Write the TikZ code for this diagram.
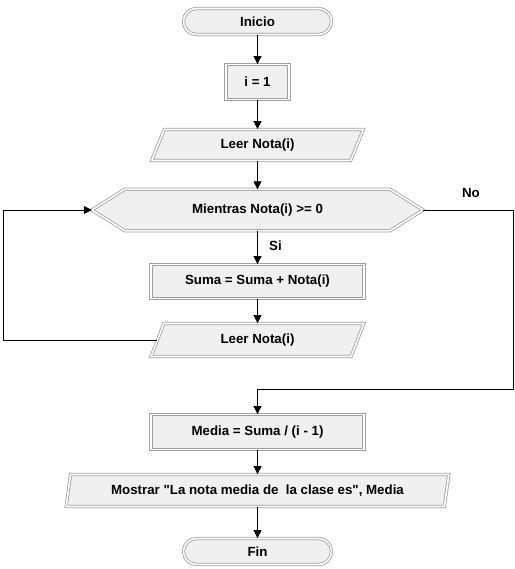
\documentclass[tikz,border=0pt]{standalone}
\usepackage{fontspec}
\setmainfont{Liberation Sans}[Ligatures=TeXOff]
\usetikzlibrary{shapes.geometric,shapes.misc,arrows.meta,backgrounds}
\definecolor{boxfill}{HTML}{F0F0F0}
\definecolor{boxline}{HTML}{A0A0A0}
\tikzset{
  dbl/.style={draw=boxline, double=white, double distance=1.6pt, line width=0.8pt, fill=boxfill},
  txt/.style={font=\fontsize{13.3}{15}\selectfont\bfseries, text=black},
  term/.style={dbl, txt, rounded rectangle, minimum width=148pt, minimum height=26pt, inner sep=0pt},
  proc/.style={dbl, txt, rectangle, minimum height=34pt, inner sep=0pt},
  io/.style={dbl, txt, trapezium, trapezium stretches=true, inner sep=0pt},
  arr/.style={draw=black, line width=0.8pt, -{Triangle[length=8pt,width=8pt]}},
  lbl/.style={txt}
}
\begin{document}
\begin{tikzpicture}[x=1pt,y=-1pt]
\useasboundingbox (0,0) rectangle (514,569);
\node[term] (inicio) at (257.5,21.5) {Inicio};
\node[proc, minimum width=63pt, minimum height=35pt] (i1) at (257.5,82) {i = 1};
\node[io, trapezium left angle=68, trapezium right angle=112, minimum width=212pt, minimum height=31pt] (leer1) at (257.5,145) {Leer Nota(i)};
\node[txt, minimum width=331pt, minimum height=41pt, inner sep=0pt] (mientras) at (257.5,210) {Mientras Nota(i) >= 0};
\begin{scope}[on background layer]
\draw[dbl] (mientras.west) -- ([xshift=33pt]mientras.north west) -- ([xshift=-33pt]mientras.north east) -- (mientras.east) -- ([xshift=-33pt]mientras.south east) -- ([xshift=33pt]mientras.south west) -- cycle;
\end{scope}
\node[proc, minimum width=213pt] (suma) at (257.5,281.5) {Suma = Suma + Nota(i)};
\node[io, trapezium left angle=68, trapezium right angle=112, minimum width=213pt, minimum height=33pt] (leer2) at (257.5,340) {Leer Nota(i)};
\node[proc, minimum width=213pt, minimum height=35pt] (media) at (257.5,432) {Media = Suma / (i - 1)};
\node[io, trapezium left angle=74, trapezium right angle=106, minimum width=384pt, minimum height=32pt] (mostrar) at (257.5,490.5) {Mostrar "La nota media de\ \ la clase es", Media};
\node[term] (fin) at (257.5,551.5) {Fin};
\coordinate (lx) at (3,0);
\coordinate (rx) at (513,389);
\draw[arr] (inicio) -- (i1);
\draw[arr] (i1) -- (leer1);
\draw[arr] (leer1) -- (mientras);
\draw[arr] (mientras) -- node[lbl, right=8pt, pos=0.45] (si) {Si} (suma);
\draw[arr] (suma) -- (leer2);
\draw[arr] (leer2.west) -- (leer2.west -| lx) |- (mientras.west);
\draw[arr] (mientras.east) -| (rx) -| (media.north);
\node[lbl] (no) at (471,193) {No};
\draw[arr] (media) -- (mostrar);
\draw[arr] (mostrar) -- (fin);
\end{tikzpicture}
\end{document}
